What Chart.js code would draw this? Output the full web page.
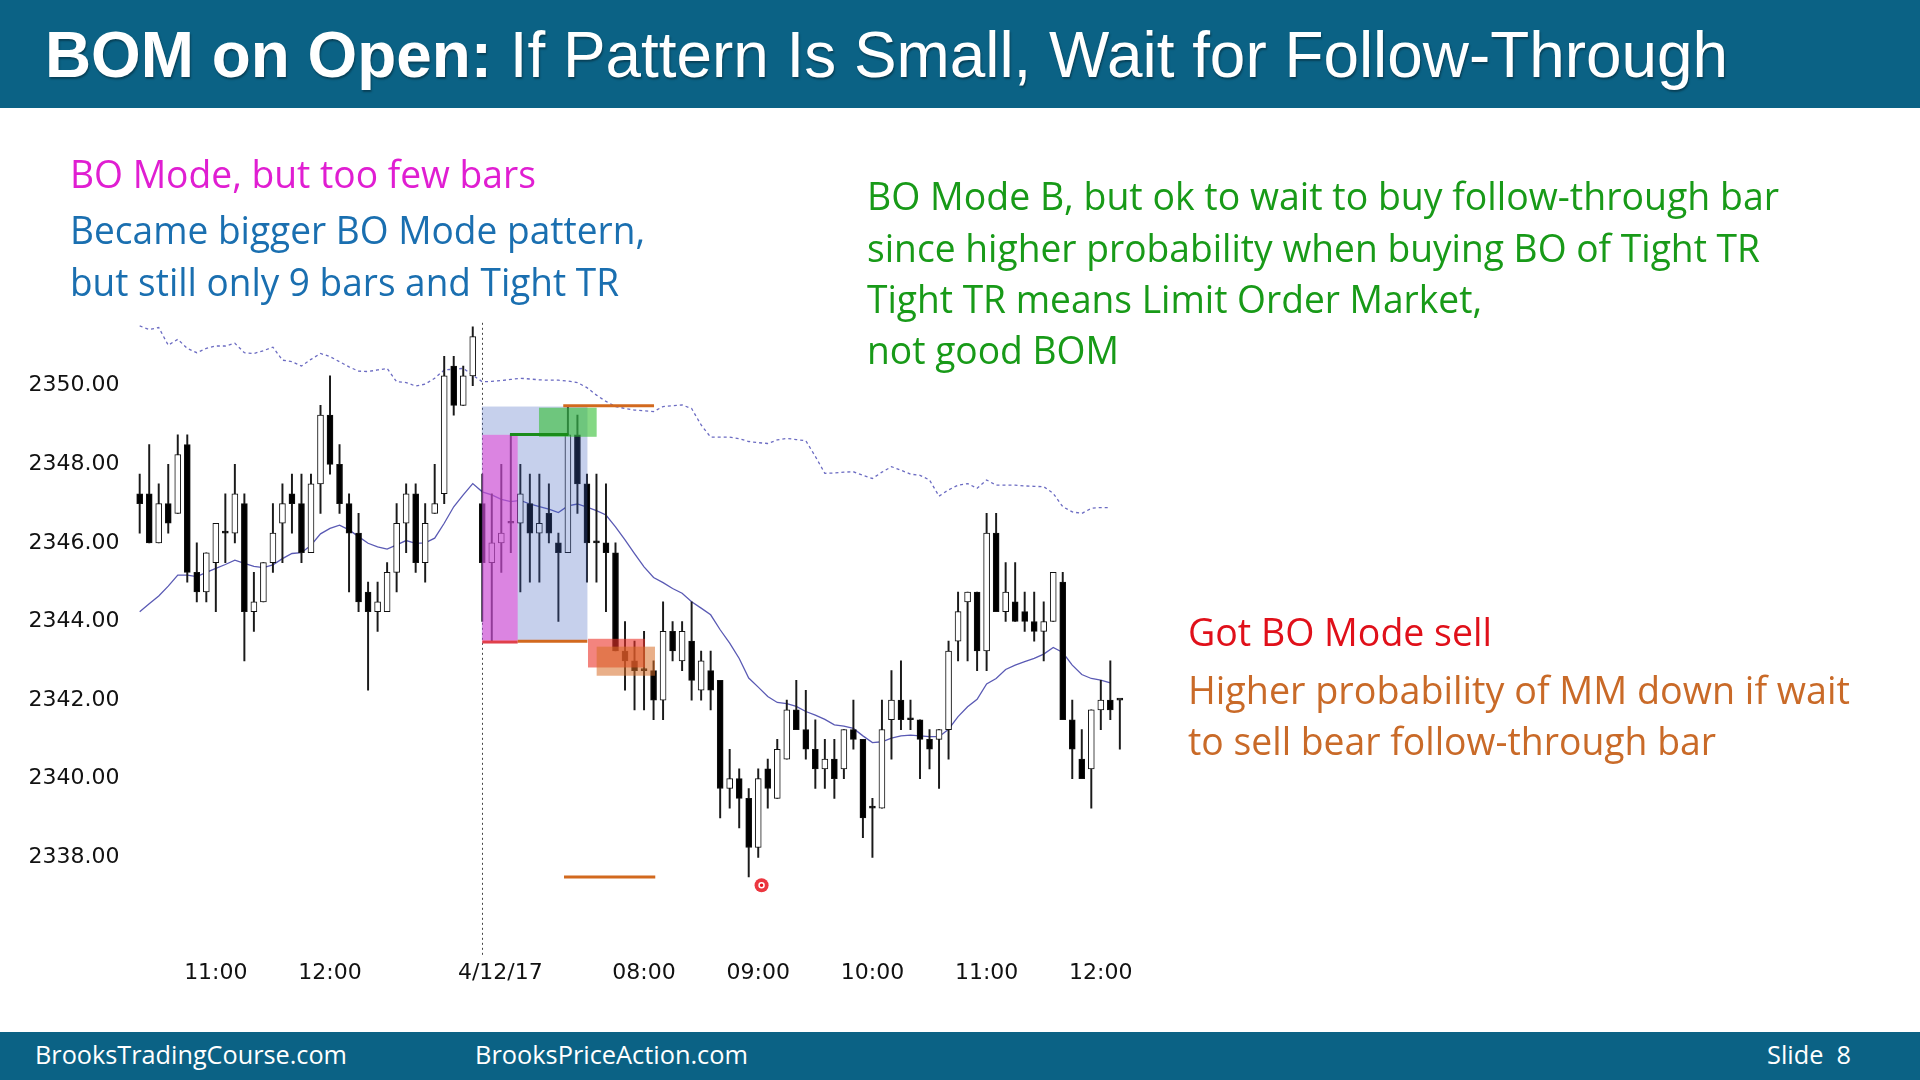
<!DOCTYPE html>
<html>
<head>
<meta charset="utf-8">
<script src="https://cdn.jsdelivr.net/npm/chart.js@4.4.1/dist/chart.umd.min.js"></script>
<style>
  body { margin: 0; width: 1920px; height: 1080px; overflow: hidden; background: #fff; position: relative; }
  #c { position: absolute; left: 0; top: 0; }
  .bar { position: absolute; left: 0; width: 1920px; background: #0b6285; }
  .txt { position: absolute; white-space: nowrap; line-height: 1; transform-origin: 0 50%; }
  .note { font-family: "Open Sans", sans-serif; font-size: 38px; }
  .foot { font-family: "Open Sans", sans-serif; font-size: 25px; color: #fff; }
</style>
</head>
<body>
<canvas id="c" width="1920" height="1080"></canvas>

<div class="bar" style="top:0;height:108px"></div>
<div class="bar" style="top:1032px;height:48px"></div>

<div class="txt fit" data-w="1683" style="left:45px;top:55px;font-family:'Liberation Sans',Arial,sans-serif;font-size:64px;color:#fff;text-shadow:1px 2px 2px rgba(0,0,0,0.35)"><b>BOM on Open:</b> If Pattern Is Small, Wait for Follow-Through</div>

<div class="txt note fit" data-w="466" style="left:70px;top:173px;color:#e01ed2">BO Mode, but too few bars</div>
<div class="txt note fit" data-w="575" style="left:70px;top:229px;color:#1a6fb0">Became bigger BO Mode pattern,</div>
<div class="txt note fit" data-w="549" style="left:70px;top:281px;color:#1a6fb0">but still only 9 bars and Tight TR</div>

<div class="txt note fit" data-w="912" style="left:867px;top:195px;color:#189a18">BO Mode B, but ok to wait to buy follow-through bar</div>
<div class="txt note fit" data-w="893" style="left:867px;top:247px;color:#189a18">since higher probability when buying BO of Tight TR</div>
<div class="txt note fit" data-w="615" style="left:867px;top:298px;color:#189a18">Tight TR means Limit Order Market,</div>
<div class="txt note fit" data-w="252" style="left:867px;top:349px;color:#189a18">not good BOM</div>

<div class="txt note fit" data-w="304" style="left:1188px;top:631px;color:#e0101a">Got BO Mode sell</div>
<div class="txt note fit" data-w="662" style="left:1188px;top:689px;color:#c96a28">Higher probability of MM down if wait</div>
<div class="txt note fit" data-w="528" style="left:1188px;top:740px;color:#c96a28">to sell bear follow-through bar</div>

<div class="txt foot fit" data-w="312" style="left:35px;top:1054px">BrooksTradingCourse.com</div>
<div class="txt foot fit" data-w="273" style="left:475px;top:1054px">BrooksPriceAction.com</div>
<div class="txt foot fit" data-w="84" style="left:1767px;top:1054px">Slide&nbsp;&nbsp;8</div>

<script>
// 5 min bars, 10:20 -> 13:15 of 4/11, then 06:35 -> 12:10 of 4/12
const opens = [
  2347.25, 2347.25, 2346.00, 2347.00, 2346.75, 2348.50, 2345.25, 2344.75, 2345.50, 2346.25,
  2346.25, 2347.00, 2344.25, 2344.50, 2345.50, 2346.50, 2347.25, 2347.00, 2345.75, 2347.50,
  2349.25, 2348.00, 2347.00, 2346.25, 2344.75, 2344.25, 2344.25, 2345.25, 2346.50, 2347.25,
  2345.50, 2346.75, 2347.25, 2350.50, 2349.50, 2350.25, 2347.00, 2345.50, 2346.00, 2346.50,
  2346.50, 2347.00, 2346.25, 2346.75, 2346.00, 2345.75, 2348.75, 2347.50, 2346.00, 2346.00,
  2345.75, 2343.25, 2343.00, 2342.75, 2342.75, 2342.00, 2343.75, 2343.00, 2343.50, 2342.25,
  2342.75, 2342.50, 2339.75, 2340.00, 2339.50, 2338.25, 2340.25, 2339.50, 2340.50, 2341.75,
  2341.25, 2340.75, 2340.25, 2340.50, 2340.25, 2341.25, 2341.00, 2339.25, 2339.25, 2341.50,
  2342.00, 2341.50, 2341.50, 2341.00, 2341.00, 2341.25, 2343.50, 2344.50, 2344.75, 2343.25,
  2346.25, 2344.25, 2344.50, 2344.25, 2344.00, 2343.75, 2344.00, 2345.00, 2341.50, 2340.50,
  2340.25, 2341.75, 2342.00, 2342.00
];
const highs = [
  2347.75, 2348.50, 2347.50, 2348.00, 2348.75, 2348.75, 2346.00, 2345.75, 2346.50, 2347.25,
  2348.00, 2347.25, 2345.25, 2345.50, 2347.00, 2347.50, 2347.75, 2347.75, 2347.75, 2349.50,
  2350.25, 2348.50, 2347.25, 2346.75, 2345.00, 2345.00, 2345.50, 2347.00, 2347.50, 2347.50,
  2347.00, 2348.00, 2350.75, 2350.75, 2350.50, 2351.50, 2347.75, 2347.25, 2348.00, 2348.75,
  2348.00, 2347.75, 2347.75, 2347.50, 2346.25, 2349.50, 2349.25, 2347.75, 2347.75, 2347.50,
  2346.00, 2344.00, 2343.50, 2343.75, 2343.00, 2344.50, 2344.00, 2344.00, 2344.50, 2343.25,
  2343.25, 2342.50, 2340.75, 2340.25, 2339.75, 2340.25, 2340.50, 2341.00, 2342.00, 2342.50,
  2342.25, 2341.50, 2341.00, 2341.00, 2341.25, 2342.00, 2341.00, 2339.50, 2342.00, 2342.75,
  2343.00, 2342.00, 2341.50, 2341.25, 2341.25, 2343.50, 2344.75, 2344.75, 2344.75, 2346.75,
  2346.75, 2345.50, 2345.50, 2344.75, 2344.75, 2344.50, 2345.25, 2345.25, 2342.00, 2341.25,
  2341.75, 2342.50, 2343.00, 2342.00
];
const lows = [
  2346.25, 2346.00, 2346.00, 2346.25, 2346.75, 2345.00, 2344.50, 2344.50, 2344.25, 2345.50,
  2346.00, 2343.00, 2343.75, 2344.50, 2345.25, 2345.50, 2346.25, 2345.50, 2345.75, 2346.75,
  2347.75, 2346.75, 2344.75, 2344.25, 2342.25, 2343.75, 2344.25, 2344.75, 2345.75, 2345.25,
  2345.00, 2346.75, 2347.00, 2349.25, 2349.50, 2350.00, 2344.00, 2343.50, 2345.25, 2345.75,
  2344.75, 2345.00, 2345.00, 2346.00, 2344.00, 2345.75, 2346.75, 2345.00, 2345.00, 2344.25,
  2343.25, 2342.25, 2341.75, 2341.75, 2341.50, 2341.50, 2343.00, 2342.75, 2342.00, 2342.00,
  2341.75, 2339.00, 2339.25, 2338.75, 2337.50, 2338.00, 2339.25, 2339.50, 2340.50, 2341.25,
  2340.50, 2339.75, 2339.75, 2339.50, 2340.00, 2340.75, 2338.50, 2338.00, 2339.25, 2340.50,
  2341.25, 2341.25, 2340.00, 2340.25, 2339.75, 2340.50, 2343.00, 2343.00, 2342.75, 2342.75,
  2344.25, 2344.00, 2344.00, 2343.75, 2343.50, 2343.00, 2344.00, 2341.50, 2340.00, 2340.00,
  2339.25, 2341.25, 2341.50, 2340.75
];
const closes = [
  2347.00, 2346.00, 2347.00, 2346.50, 2348.25, 2345.25, 2344.75, 2345.75, 2346.50, 2346.25,
  2347.25, 2344.25, 2344.50, 2345.50, 2346.25, 2347.00, 2347.00, 2345.75, 2347.50, 2349.25,
  2348.00, 2347.00, 2346.25, 2344.50, 2344.25, 2344.50, 2345.25, 2346.50, 2347.25, 2345.50,
  2346.50, 2347.00, 2350.25, 2349.50, 2350.25, 2351.25, 2345.50, 2346.00, 2346.25, 2346.50,
  2347.25, 2346.25, 2346.50, 2346.25, 2345.75, 2348.75, 2347.50, 2346.00, 2346.00, 2345.75,
  2343.25, 2343.00, 2342.75, 2342.75, 2342.00, 2343.75, 2343.25, 2343.75, 2342.50, 2343.00,
  2342.25, 2339.75, 2340.00, 2339.50, 2338.25, 2340.00, 2339.75, 2340.75, 2341.75, 2341.25,
  2340.75, 2340.25, 2340.50, 2340.00, 2341.25, 2341.00, 2339.00, 2339.25, 2341.25, 2342.00,
  2341.50, 2341.50, 2341.00, 2340.75, 2341.25, 2343.25, 2344.25, 2344.75, 2343.25, 2346.25,
  2344.25, 2344.75, 2344.00, 2344.00, 2343.75, 2344.00, 2345.25, 2341.50, 2340.75, 2340.00,
  2341.75, 2342.00, 2341.75, 2342.00
];
// 20 bar EMA (solid) and the upper dotted band
const emaLine = [
  2344.25, 2344.45, 2344.65, 2344.90, 2345.18, 2345.18, 2345.14, 2345.25, 2345.35, 2345.45,
  2345.56, 2345.48, 2345.40, 2345.37, 2345.44, 2345.60, 2345.73, 2345.75, 2345.94, 2346.23,
  2346.37, 2346.45, 2346.33, 2346.16, 2345.99, 2345.90, 2345.84, 2345.95, 2346.06, 2345.99,
  2346.00, 2346.12, 2346.50, 2346.92, 2347.22, 2347.51, 2347.30, 2347.22, 2347.11, 2347.05,
  2347.08, 2346.99, 2346.92, 2346.86, 2346.77, 2346.94, 2346.99, 2346.91, 2346.82, 2346.71,
  2346.41, 2346.08, 2345.73, 2345.39, 2345.12, 2344.99, 2344.84, 2344.72, 2344.50, 2344.34,
  2344.17, 2343.79, 2343.45, 2343.06, 2342.56, 2342.33, 2342.09, 2341.94, 2341.91, 2341.84,
  2341.71, 2341.62, 2341.51, 2341.37, 2341.34, 2341.28, 2341.09, 2340.92, 2340.94, 2341.03,
  2341.09, 2341.11, 2341.09, 2341.07, 2341.07, 2341.26, 2341.58, 2341.83, 2342.02, 2342.41,
  2342.55, 2342.78, 2342.89, 2342.98, 2343.06, 2343.17, 2343.34, 2343.21, 2342.89, 2342.65,
  2342.55, 2342.51, 2342.44
];
const upperBand = [
  2351.52, 2351.43, 2351.48, 2351.03, 2351.18, 2350.95, 2350.84, 2350.95, 2351.01, 2351.01,
  2351.08, 2350.84, 2350.82, 2350.89, 2350.98, 2350.65, 2350.61, 2350.50, 2350.67, 2350.82,
  2350.74, 2350.61, 2350.48, 2350.37, 2350.36, 2350.40, 2350.44, 2350.10, 2350.08, 2349.99,
  2350.04, 2350.19, 2350.40, 2350.42, 2350.44, 2350.27, 2350.10, 2350.11, 2350.13, 2350.16,
  2350.19, 2350.17, 2350.15, 2350.14, 2350.14, 2350.12, 2350.08, 2349.95, 2349.76, 2349.60,
  2349.47, 2349.42, 2349.38, 2349.36, 2349.34, 2349.47, 2349.49, 2349.51, 2349.42, 2349.00,
  2348.69, 2348.69, 2348.69, 2348.65, 2348.58, 2348.55, 2348.53, 2348.62, 2348.66, 2348.63,
  2348.60, 2348.20, 2347.77, 2347.78, 2347.80, 2347.81, 2347.72, 2347.64, 2347.80, 2347.94,
  2347.85, 2347.75, 2347.72, 2347.60, 2347.19, 2347.35, 2347.47, 2347.51, 2347.39, 2347.60,
  2347.47, 2347.47, 2347.47, 2347.45, 2347.44, 2347.43, 2347.26, 2346.92, 2346.79, 2346.75,
  2346.88, 2346.90, 2346.90
];
const xTickPos = [8, 20, 37.9, 53, 65, 77, 89, 101];
const xTickText = ["11:00", "12:00", "4/12/17", "08:00", "09:00", "10:00", "11:00", "12:00"];
const yTicks = [2338, 2340, 2342, 2344, 2346, 2348, 2350];

// drawn boxes: [fromBar, toBar, lowPrice, highPrice]
const boMode9Box = [35.95, 47.05, 2343.53, 2349.47];
const boModeBox = [36.0, 39.72, 2343.45, 2348.75];
const buyFtBox = [41.96, 48.02, 2348.70, 2349.44];
const sellBox = [47.11, 53.10, 2342.83, 2343.56];
const sellFtBox = [48.02, 54.15, 2342.62, 2343.36];
// drawn lines: [fromBar, toBar, price]
const boHighLine = [38.91, 45.04, 2348.76];
const mmTopLine = [44.51, 54.05, 2349.49];
const boLowRedLine = [36.0, 39.72, 2343.48];
const boLowLine = [39.72, 47.04, 2343.50];
const mmTargetLine = [44.59, 54.18, 2337.50];
const sessionBar = 36;
const cursorDot = [65.35, 2337.29];

const barIdx = opens.map((o, i) => i);

const overlayPlugin = {
  id: "overlay",
  beforeDatasetsDraw(chart) {
    const { ctx, scales: { x, y } } = chart;
    ctx.save();
    ctx.strokeStyle = "#444";
    ctx.lineWidth = 1;
    ctx.setLineDash([2, 3]);
    ctx.beginPath();
    ctx.moveTo(Math.round(x.getPixelForValue(sessionBar)) + 0.5, y.getPixelForValue(2351.6));
    ctx.lineTo(Math.round(x.getPixelForValue(sessionBar)) + 0.5, y.getPixelForValue(y.min));
    ctx.stroke();
    ctx.restore();
  },
  afterDatasetsDraw(chart) {
    const { ctx, scales: { x, y } } = chart;
    const box = (b, color) => {
      const x0 = x.getPixelForValue(b[0]);
      const x1 = x.getPixelForValue(b[1]);
      const y0 = y.getPixelForValue(b[3]);
      const y1 = y.getPixelForValue(b[2]);
      ctx.fillStyle = color;
      ctx.fillRect(x0, y0, x1 - x0, y1 - y0);
    };
    const hline = (l, color) => {
      ctx.strokeStyle = color;
      ctx.lineWidth = 3;
      ctx.beginPath();
      ctx.moveTo(x.getPixelForValue(l[0]), y.getPixelForValue(l[2]));
      ctx.lineTo(x.getPixelForValue(l[1]), y.getPixelForValue(l[2]));
      ctx.stroke();
    };
    ctx.save();
    box(boMode9Box, "rgba(65,98,192,0.3)");
    box(boModeBox, "rgba(235,70,215,0.55)");
    box(buyFtBox, "rgba(50,190,50,0.6)");
    box(sellBox, "rgba(235,50,40,0.6)");
    box(sellFtBox, "rgba(215,110,40,0.55)");
    hline(boHighLine, "#1a8c1a");
    hline(mmTopLine, "#d2691e");
    hline(boLowRedLine, "#e0404a");
    hline(boLowLine, "#d2691e");
    hline(mmTargetLine, "#d2691e");
    ctx.restore();
  }
};

new Chart(document.getElementById("c"), {
  type: "bar",
  data: {
    datasets: [
      {
        type: "line",
        data: [{ x: cursorDot[0], y: cursorDot[1] }],
        showLine: false,
        pointRadius: 2.5,
        pointBackgroundColor: "#e8141e",
        pointBorderColor: "#fff",
        pointBorderWidth: 1.5,
        order: 0
      },
      {
        type: "line",
        data: [{ x: cursorDot[0], y: cursorDot[1] }],
        showLine: false,
        pointRadius: 7,
        pointBackgroundColor: "rgba(232,20,30,0.85)",
        pointBorderWidth: 0,
        order: 1
      },
      {
        data: barIdx.map((i) => ({ x: i, y: [opens[i], closes[i]] })),
        backgroundColor: barIdx.map((i) => (closes[i] > opens[i] ? "#fff" : "#000")),
        borderColor: "#111",
        borderWidth: 1,
        borderSkipped: false,
        barThickness: 6,
        minBarLength: 2,
        grouped: false,
        order: 2
      },
      {
        data: barIdx.map((i) => ({ x: i, y: [lows[i], highs[i]] })),
        backgroundColor: "#1a1a1a",
        borderWidth: 0,
        barThickness: 1.3,
        grouped: false,
        order: 3
      },
      {
        type: "line",
        data: emaLine.map((v, i) => ({ x: i, y: v })),
        borderColor: "#5a5ab4",
        borderWidth: 1.3,
        pointRadius: 0,
        order: 4
      },
      {
        type: "line",
        data: upperBand.map((v, i) => ({ x: i, y: v })),
        borderColor: "#6b6bc2",
        borderWidth: 1.3,
        borderDash: [3, 3],
        pointRadius: 0,
        order: 5
      }
    ]
  },
  options: {
    responsive: false,
    animation: false,
    events: [],
    layout: { padding: { top: 307.1, right: 795.4, bottom: 0, left: 0 } },
    plugins: { legend: { display: false }, tooltip: { enabled: false } },
    scales: {
      x: {
        type: "linear",
        offset: false,
        min: -0.5,
        max: 103.5,
        grid: { display: false, drawTicks: false },
        border: { display: false },
        afterBuildTicks: (s) => { s.ticks = xTickPos.map((v) => ({ value: v })); },
        afterFit: (s) => { s.height = 1080 - 955.55; },
        ticks: {
          autoSkip: false,
          maxRotation: 0,
          padding: 5,
          color: "#111",
          font: { family: "DejaVu Sans", size: 22 },
          callback: (v, i) => xTickText[i]
        }
      },
      y: {
        min: 2335.5,
        max: 2352,
        grid: { display: false, drawTicks: false },
        border: { display: false },
        afterBuildTicks: (s) => { s.ticks = yTicks.map((v) => ({ value: v })); },
        afterFit: (s) => { s.width = 134.94; },
        ticks: {
          padding: 15.4,
          color: "#111",
          font: { family: "DejaVu Sans", size: 22 },
          callback: (v) => v.toFixed(2)
        }
      }
    }
  },
  plugins: [overlayPlugin]
});

// squeeze each text line to the width it has on the slide
function fitText() {
  document.querySelectorAll(".fit").forEach((el) => {
    el.style.transform = "translateY(-50%)";
    const w = el.getBoundingClientRect().width;
    el.style.transform = `translateY(-50%) scaleX(${el.dataset.w / w})`;
  });
}
fitText();
document.fonts.ready.then(fitText);
</script>
</body>
</html>
